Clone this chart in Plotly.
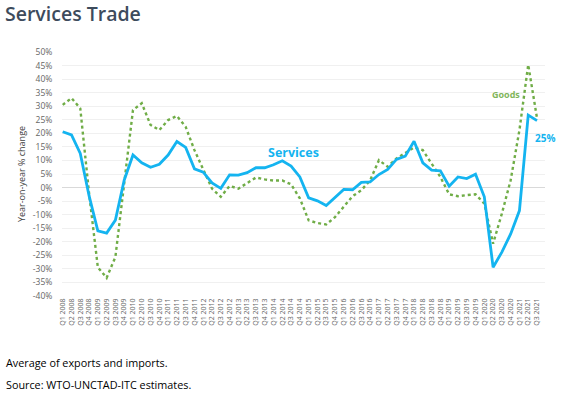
import plotly.graph_objects as go

years = list(range(2008, 2022))
quarters = [f"Q{q} {y}" for y in years for q in range(1, 5)][:55]

services = [20.6, 19.4, 12.6, -3.0, -16.0, -16.8, -12.0, 2.7,
            12.0, 9.1, 7.5, 8.6, 12.0, 17.0, 14.8, 6.9,
            5.7, 1.7, -0.3, 4.7, 4.6, 5.5, 7.3, 7.3,
            8.4, 9.9, 7.9, 3.9, -3.8, -4.9, -6.6, -3.7,
            -0.7, -0.8, 1.9, 2.1, 4.8, 6.7, 10.4, 11.6,
            17.1, 9.1, 6.4, 6.2, 0.5, 3.9, 3.3, 4.9,
            -3.4, -29.4, -23.8, -17.1, -8.5, 26.7, 24.7]

goods = [30.5, 33.0, 29.2, -2.0, -29.4, -33.3, -25.6, 1.5,
         28.6, 31.1, 23.1, 21.2, 24.9, 26.4, 22.4, 13.8,
         6.4, -0.4, -3.4, 0.6, -0.4, 1.5, 3.7, 3.0,
         2.6, 2.6, 1.2, -4.0, -12.1, -13.1, -13.6, -10.9,
         -7.2, -3.2, -1.0, 2.7, 10.1, 7.7, 10.7, 12.6,
         14.8, 13.8, 8.9, 3.9, -2.5, -3.2, -2.8, -2.5,
         -5.9, -20.7, -9.6, 2.7, 21.2, 45.3, 25.6]

y_ticks = list(range(-40, 55, 5))
y_tick_labels = [f"{v}%" for v in y_ticks]

W, H = 562, 399
ML, MR, MT, MB = 62, 17, 52, 103
PW, PH = W - ML - MR, H - MT - MB


def px(x):
    return (x - ML) / PW


def py(y):
    return (H - MB - y) / PH


fig = go.Figure()
fig.add_trace(go.Scatter(x=quarters, y=goods, mode="lines", name="Goods",
                         line=dict(color="#70ad47", width=2.4, dash="dot")))
fig.add_trace(go.Scatter(x=quarters, y=services, mode="lines", name="Services",
                         line=dict(color="#14b4f0", width=2.8)))

fig.update_layout(
    width=W, height=H,
    margin=dict(l=ML, r=MR, t=MT, b=MB),
    paper_bgcolor="white", plot_bgcolor="white",
    showlegend=False,
    font=dict(family="Open Sans, DejaVu Sans, sans-serif", color="#595959"),
    title=dict(text="Services Trade", x=5 / W, xanchor="left", y=1 - 14 / H, yanchor="middle",
               xref="container", yref="container",
               font=dict(size=19.5, color="#3d4b5c", family="Open Sans, sans-serif", weight=600)),
)
fig.update_xaxes(
    type="category", categoryorder="array", categoryarray=quarters,
    range=[-0.08, 54.91], tickangle=-90, tickfont=dict(size=7, color="#666666"),
    showgrid=False, showline=False, ticks="", zeroline=False, automargin=False,
)
fig.update_yaxes(
    range=[-40, 50], tickvals=y_ticks, ticktext=y_tick_labels,
    tickfont=dict(size=8.5, color="#666666"),
    showgrid=True, gridcolor="#f0f0f0", gridwidth=1,
    zeroline=True, zerolinecolor="#d9d9d9", zerolinewidth=1,
    title=dict(text="Year-on-year % change", font=dict(size=9, color="#404040"), standoff=5),
    ticks="outside", ticklen=7, tickcolor="rgba(0,0,0,0)", showline=False, automargin=False,
)

fig.add_annotation(xref="paper", yref="paper", x=px(293), y=py(152),
                   text="<b>Services</b>", showarrow=False,
                   font=dict(size=12.5, color="#14b4f0"))
fig.add_annotation(xref="paper", yref="paper", x=px(490), xanchor="left", y=py(86),
                   text="<b>Goods</b>", showarrow=False,
                   font=dict(size=9, color="#7fb55a"))
fig.add_annotation(xref="paper", yref="paper", x=px(533), xanchor="left", y=py(129),
                   text="<b>25%</b>", showarrow=False,
                   font=dict(size=10, color="#14b4f0"))

fig.add_annotation(xref="paper", yref="paper", x=px(4), xanchor="left",
                   y=py(362), yanchor="middle",
                   text="Average of exports and imports.", showarrow=False,
                   font=dict(size=10.8, color="#000000"))
fig.add_annotation(xref="paper", yref="paper", x=px(4), xanchor="left",
                   y=py(384), yanchor="middle",
                   text="Source: WTO-UNCTAD-ITC estimates.", showarrow=False,
                   font=dict(size=10.8, color="#000000"))

fig.write_html("out.html", config={"displayModeBar": False},
               post_script="document.body.style.margin='0';")
